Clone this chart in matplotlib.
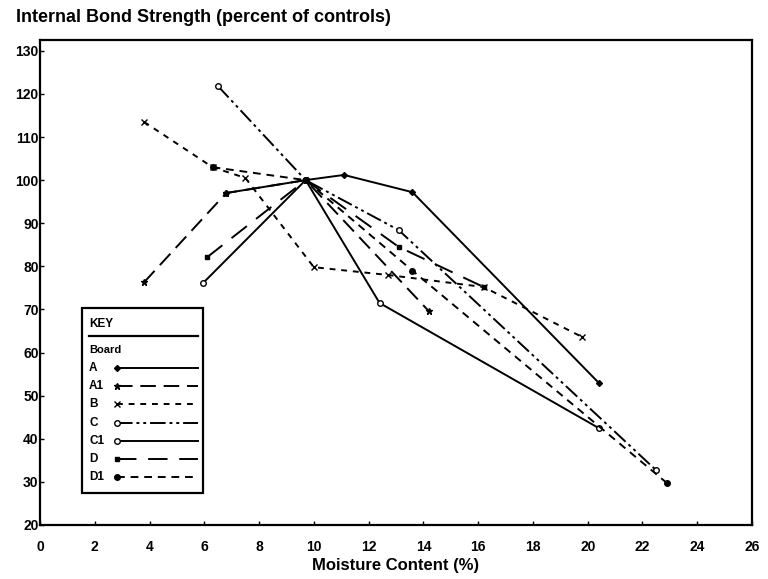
import matplotlib
matplotlib.use("Agg")
import matplotlib.pyplot as plt
from matplotlib.patches import Rectangle

# Data (moisture content %, strength % of controls)
boards = ["A", "A1", "B", "C", "C1", "D", "D1"]
mc_A = [6.8, 9.7, 11.1, 13.6, 20.4]
ib_A = [97.0, 100, 101.2, 97.2, 53.0]
mc_A1 = [3.8, 6.8, 9.7, 14.2]
ib_A1 = [76.3, 97.0, 100, 69.6]
mc_B = [3.8, 6.3, 7.5, 10.0, 12.7, 16.2, 19.8]
ib_B = [113.5, 103.0, 100.5, 79.8, 78.0, 75.2, 63.6]
mc_C = [6.5, 9.7, 13.1, 22.5]
ib_C = [121.8, 100, 88.4, 32.7]
mc_C1 = [5.95, 9.7, 12.4, 20.4]
ib_C1 = [76.1, 100, 71.5, 42.5]
mc_D = [6.1, 9.7, 13.1, 16.2]
ib_D = [82.1, 100, 84.5, 75.2]
mc_D1 = [6.3, 9.7, 13.6, 22.9]
ib_D1 = [103.0, 100, 79.0, 29.7]

x_ticks = list(range(0, 27, 2))
y_ticks = list(range(20, 131, 10))

series = {
    "A": (mc_A, ib_A),
    "A1": (mc_A1, ib_A1),
    "B": (mc_B, ib_B),
    "C": (mc_C, ib_C),
    "C1": (mc_C1, ib_C1),
    "D": (mc_D, ib_D),
    "D1": (mc_D1, ib_D1),
}
styles = {
    "A": dict(ls="-", marker="D", ms=3, mfc="black"),
    "A1": dict(ls=(0, (8, 4)), marker="*", ms=5, mfc="black"),
    "B": dict(ls=(0, (3, 3)), marker="x", ms=4, mfc="black"),
    "C": dict(ls=(0, (8, 2, 1.5, 2, 1.5, 2)), marker="o", ms=4, mfc="white"),
    "C1": dict(ls="-", marker="o", ms=4, mfc="white"),
    "D": dict(ls=(0, (10, 6)), marker="s", ms=3, mfc="black"),
    "D1": dict(ls=(0, (4, 3)), marker="o", ms=4, mfc="black"),
}

plt.rcParams["font.family"] = "Liberation Sans"
plt.rcParams["font.weight"] = "bold"

fig = plt.figure(figsize=(7.68, 5.79), dpi=100)
# axes frame: x 40..752 px, y 40..525 px
ax = fig.add_axes([40 / 768, 54 / 579, 712 / 768, 485 / 579])

for b in boards:
    x, y = series[b]
    ax.plot(x, y, color="black", lw=1.4, mec="black", mew=1.0, **styles[b])

ax.set_xlim(0, 26)
ax.set_ylim(20, 132.5)
ax.set_xticks(x_ticks)
ax.set_yticks(y_ticks)
ax.tick_params(axis="x", direction="in", length=3, width=1, labelsize=10, pad=11)
ax.tick_params(axis="y", direction="in", length=3, width=1, labelsize=10, pad=1)
for lab in ax.get_xticklabels() + ax.get_yticklabels():
    lab.set_fontweight("bold")
for s in ax.spines.values():
    s.set_linewidth(1.6)

ax.set_xlabel("Moisture Content (%)", fontsize=12, fontweight="bold", labelpad=3)
fig.text(16 / 768, 1 - 18 / 579, "Internal Bond Strength (percent of controls)",
         fontsize=13, fontweight="bold", va="center", ha="left")

# Key box drawn by hand (labels left, samples right)
tr = ax.transAxes
def ax_x(px):
    return (px - 40) / 712
def ax_y(py):
    return (525 - py) / 485

ax.add_patch(Rectangle((ax_x(82), ax_y(493)), ax_x(203) - ax_x(82), ax_y(308) - ax_y(493),
                       transform=tr, fill=False, lw=1.6, ec="black", zorder=5))
ax.text(ax_x(89), ax_y(324), "KEY", transform=tr, fontsize=8.5, fontweight="bold", va="center")
ax.plot([ax_x(89), ax_x(198)], [ax_y(336), ax_y(336)], transform=tr, color="black", lw=1.6)
ax.text(ax_x(89), ax_y(350), "Board", transform=tr, fontsize=8, fontweight="bold", va="center")
for i, b in enumerate(boards):
    yy = ax_y(368 + i * 18.2)
    ax.text(ax_x(89), yy, b, transform=tr, fontsize=8.5, fontweight="bold", va="center")
    ax.plot([ax_x(117), ax_x(198)], [yy, yy], transform=tr, color="black", lw=1.4,
            mec="black", mew=1.0, markevery=[0], **styles[b])

fig.savefig("out.png", dpi=100)
